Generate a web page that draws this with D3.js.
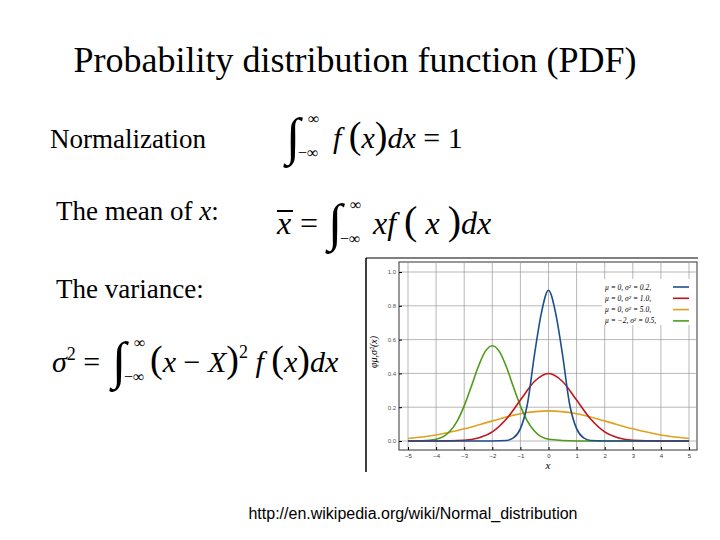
<!DOCTYPE html>
<html lang="en">
<head>
<meta charset="UTF-8">
<script src="https://d3js.org/d3.v7.min.js"></script>
<style>
  body { margin: 0; background: #fff; }
  .serif { font-family: "Liberation Serif", "DejaVu Serif", serif; }
</style>
</head>
<body>
<div id="slide"></div>
<script>
// values
const blueX  = [-5, -2, -1.5, -1.25, -1, -0.75, -0.5, -0.25, 0, 0.25, 0.5, 0.75, 1, 1.25, 1.5, 2, 5];
const blueY  = [0, 0.0001, 0.003, 0.018, 0.073, 0.219, 0.51, 0.76, 0.892, 0.76, 0.51, 0.219, 0.073, 0.018, 0.003, 0.0001, 0];
const redX   = [-5, -4, -3, -2.5, -2, -1.5, -1, -0.5, 0, 0.5, 1, 1.5, 2, 2.5, 3, 4, 5];
const redY   = [0, 0.0001, 0.0044, 0.018, 0.054, 0.13, 0.242, 0.352, 0.399, 0.352, 0.242, 0.13, 0.054, 0.018, 0.0044, 0.0001, 0];
const orangeX = [-5, -4, -3, -2, -1, 0, 1, 2, 3, 4, 5];
const orangeY = [0.015, 0.036, 0.072, 0.119, 0.161, 0.178, 0.161, 0.119, 0.072, 0.036, 0.015];
const greenX = [-5, -4.5, -4, -3.5, -3.25, -3, -2.75, -2.5, -2.25, -2, -1.75, -1.5, -1.25, -1, -0.75, -0.5, 0, 1, 5];
const greenY = [0, 0.0011, 0.0103, 0.059, 0.118, 0.208, 0.321, 0.439, 0.53, 0.564, 0.53, 0.439, 0.321, 0.208, 0.118, 0.059, 0.0103, 0, 0];
const legendLabels = ["μ = 0,   σ² = 0.2,", "μ = 0,   σ² = 1.0,", "μ = 0,   σ² = 5.0,", "μ = −2,  σ² = 0.5,"];
const colors = ["#1f4e8c", "#c0141c", "#e0a020", "#4f9a1a"];
const xTicks = d3.range(-5, 6, 1);
const yTicks = [0, 0.2, 0.4, 0.6, 0.8, 1.0];

const svg = d3.select("#slide").append("svg").attr("width", 720).attr("height", 540);

// slide text
svg.append("text").attr("class", "serif").attr("x", 355).attr("y", 72)
  .attr("text-anchor", "middle").attr("font-size", 36).text("Probability distribution function (PDF)");
svg.append("text").attr("class", "serif").attr("x", 50).attr("y", 148).attr("font-size", 27).text("Normalization");
svg.append("text").attr("class", "serif").attr("x", 56).attr("y", 220).attr("font-size", 27)
  .html('The mean of <tspan font-style="italic">x</tspan>:');
svg.append("text").attr("class", "serif").attr("x", 56).attr("y", 298).attr("font-size", 27).text("The variance:");

const integral = (x, y) => {
  svg.append("text").attr("class", "serif").attr("x", x).attr("y", y + 14).attr("font-size", 52).text("∫");
  svg.append("text").attr("class", "serif").attr("x", x + 22).attr("y", y - 16).attr("font-size", 16).text("∞");
  svg.append("text").attr("class", "serif").attr("x", x + 12).attr("y", y + 18).attr("font-size", 16).text("−∞");
};
integral(286, 140);
svg.append("text").attr("class", "serif").attr("x", 333).attr("y", 148).attr("font-size", 30)
  .html('<tspan font-style="italic">f</tspan> <tspan font-size="38">(</tspan><tspan font-style="italic">x</tspan><tspan font-size="38">)</tspan><tspan font-style="italic">dx</tspan> = 1');

svg.append("text").attr("class", "serif").attr("x", 277).attr("y", 234).attr("font-size", 32).attr("font-style", "italic").text("x");
svg.append("line").attr("x1", 277).attr("x2", 293).attr("y1", 211).attr("y2", 211).attr("stroke", "#000").attr("stroke-width", 2);
svg.append("text").attr("class", "serif").attr("x", 300).attr("y", 234).attr("font-size", 32).text("=");
integral(328, 226);
svg.append("text").attr("class", "serif").attr("x", 373).attr("y", 234).attr("font-size", 32)
  .html('<tspan font-style="italic">xf</tspan> <tspan font-size="40">(</tspan><tspan font-style="italic"> x </tspan><tspan font-size="40">)</tspan><tspan font-style="italic">dx</tspan>');

svg.append("text").attr("class", "serif").attr("x", 52).attr("y", 372).attr("font-size", 30)
  .html('<tspan font-style="italic">σ</tspan><tspan font-size="18" dy="-12">2</tspan><tspan dy="12"> =</tspan>');
integral(112, 364);
svg.append("text").attr("class", "serif").attr("x", 150).attr("y", 372).attr("font-size", 30)
  .html('<tspan font-size="38">(</tspan><tspan font-style="italic">x</tspan> − <tspan font-style="italic">X</tspan><tspan font-size="38">)</tspan><tspan font-size="18" dy="-14">2</tspan><tspan dy="14"> </tspan><tspan font-style="italic">f</tspan> <tspan font-size="38">(</tspan><tspan font-style="italic">x</tspan><tspan font-size="38">)</tspan><tspan font-style="italic">dx</tspan>');

svg.append("text").attr("x", 413).attr("y", 519).attr("text-anchor", "middle")
  .attr("font-family", "Liberation Sans, Arial, sans-serif").attr("font-size", 16)
  .text("http://en.wikipedia.org/wiki/Normal_distribution");

// embedded chart
const g = svg.append("g");
g.append("rect").attr("x", 366).attr("y", 258).attr("width", 332).attr("height", 214).attr("fill", "#fff");
g.append("line").attr("x1", 366).attr("x2", 366).attr("y1", 258).attr("y2", 472).attr("stroke", "#000").attr("stroke-width", 1.5);
g.append("line").attr("x1", 366).attr("x2", 698).attr("y1", 258).attr("y2", 258).attr("stroke", "#000").attr("stroke-width", 1);

const x = d3.scaleLinear().domain([-5, 5]).range([408, 689]);
const y = d3.scaleLinear().domain([0, 1]).range([441, 272]);
const pLeft = 399, pRight = 697, pTop = 262, pBottom = 450;

g.append("rect").attr("x", pLeft).attr("y", pTop).attr("width", pRight - pLeft).attr("height", pBottom - pTop)
  .attr("fill", "#fff").attr("stroke", "#333");
g.selectAll(".vg").data(xTicks).join("line").attr("x1", d => x(d)).attr("x2", d => x(d))
  .attr("y1", pTop).attr("y2", pBottom).attr("stroke", "#999").attr("stroke-width", 0.7);
g.selectAll(".hg").data(yTicks).join("line").attr("x1", pLeft).attr("x2", pRight)
  .attr("y1", d => y(d)).attr("y2", d => y(d)).attr("stroke", "#999").attr("stroke-width", 0.7);

const xAxis = d3.axisBottom(x).tickValues(xTicks).tickSize(-3).tickFormat(d3.format("d"));
g.append("g").attr("transform", `translate(0,${pBottom})`).call(xAxis)
  .call(a => a.select(".domain").remove())
  .call(a => a.selectAll("text").attr("font-size", 6).attr("fill", "#333").attr("dy", "0.9em"));
const yAxis = d3.axisLeft(y).tickValues(yTicks).tickSize(-3).tickFormat(d3.format(".1f"));
g.append("g").attr("transform", `translate(${pLeft},0)`).call(yAxis)
  .call(a => a.select(".domain").remove())
  .call(a => a.selectAll("text").attr("font-size", 6).attr("fill", "#555"));

g.append("text").attr("class", "serif").attr("x", 548).attr("y", 469).attr("text-anchor", "middle")
  .attr("font-size", 11).attr("font-style", "italic").text("x");
g.append("text").attr("class", "serif").attr("transform", "translate(377,352) rotate(-90)")
  .attr("text-anchor", "middle").attr("font-size", 10).attr("font-style", "italic").text("φμ,σ²(x)");

const line = d3.line().x(d => x(d[0])).y(d => y(d[1])).curve(d3.curveMonotoneX);
const series = [[blueX, blueY], [redX, redY], [orangeX, orangeY], [greenX, greenY]];
// orange first, blue last, as layered in the reference
[2, 3, 1, 0].forEach(i => {
  const pts = series[i][0].map((v, j) => [v, series[i][1][j]]);
  g.append("path").attr("d", line(pts)).attr("fill", "none").attr("stroke", colors[i]).attr("stroke-width", 1.6);
});

const lg = g.append("g");
lg.append("rect").attr("x", 602).attr("y", 279).attr("width", 94).attr("height", 46).attr("fill", "#fff");
legendLabels.forEach((t, i) => {
  const yy = 287 + i * 11.3;
  lg.append("text").attr("class", "serif").attr("x", 605).attr("y", yy + 2.5).attr("font-size", 7.5)
    .attr("font-style", "italic").text(t);
  lg.append("line").attr("x1", 673).attr("x2", 689).attr("y1", yy).attr("y2", yy)
    .attr("stroke", colors[i]).attr("stroke-width", 1.6);
});
</script>
</body>
</html>
